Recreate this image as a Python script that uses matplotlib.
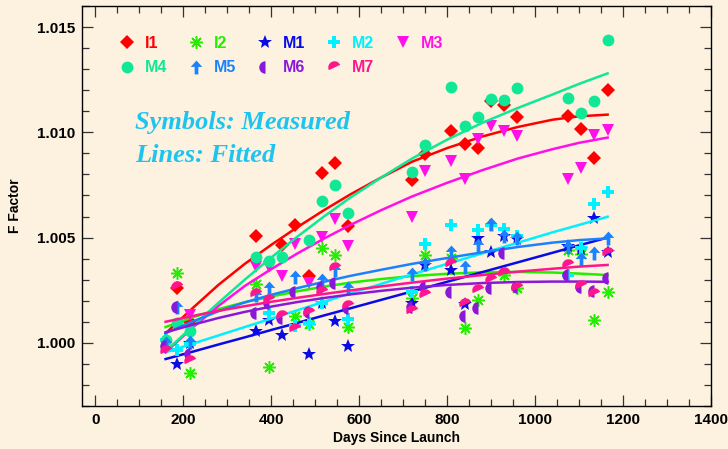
import numpy as np
import matplotlib.pyplot as plt
from matplotlib.markers import MarkerStyle
from matplotlib.transforms import Affine2D

plt.rcParams["font.family"] = ["Liberation Sans", "DejaVu Sans"]

nan = np.nan

# measurement days (days since launch)
days = [160, 185, 215, 365, 395, 425, 455, 485, 515, 545, 575,
        720, 750, 810, 840, 870, 900, 930, 960, 1075, 1105, 1135, 1165]

# measured F factors per band
i1 = [nan, 1.00260, 1.00098, 1.00507, nan, 1.00464, 1.00560, 1.00318, 1.00806, 1.00853, 1.00555,
      1.00772, 1.00896, 1.01005, 1.00943, 1.00926, 1.01147, 1.01130, 1.01075, 1.01077, 1.01014, 1.00877, 1.01200]
i2 = [nan, 1.00333, 0.99859, 1.00280, 0.99885, nan, 1.00128, 1.00090, 1.00449, 1.00415, 1.00074,
      1.00215, 1.00415, 1.00405, 1.00070, 1.00204, nan, 1.00320, 1.00259, 1.00443, 1.00420, 1.00108, 1.00243]
m1 = [nan, 0.99900, 1.00000, 1.00054, 1.00109, 1.00038, nan, 0.99946, 1.00190, 1.00106, 0.99984,
      1.00188, 1.00368, 1.00346, 1.00184, 1.00500, 1.00433, 1.00508, 1.00494, 1.00460, 1.00445, 1.00593, 1.00430]
m2 = [1.00014, 0.99967, 0.99995, nan, 1.00141, nan, 1.00080, 1.00095, 1.00187, nan, 1.00112,
      1.00243, 1.00470, 1.00558, nan, 1.00536, 1.00558, 1.00540, 1.00506, 1.00320, 1.00449, 1.00659, 1.00716]
m3 = [nan, nan, 1.00130, 1.00362, 1.00362, 1.00318, 1.00468, 1.00286, 1.00504, 1.00586, 1.00460,
      1.00596, 1.00814, 1.00862, 1.00778, 1.00966, 1.01029, 1.01004, 1.00984, 1.00780, 1.00832, 1.00986, 1.01009]
m4 = [1.00014, 1.00093, 1.00054, 1.00406, 1.00390, 1.00408, nan, 1.00488, 1.00673, 1.00749, 1.00615,
      1.00812, 1.00942, 1.01215, 1.01028, 1.01073, 1.01160, 1.01155, 1.01212, 1.01163, 1.01092, 1.01147, 1.01439]
m5 = [1.00000, 1.00170, 1.00006, 1.00225, 1.00259, nan, 1.00312, nan, 1.00299, 1.00345, 1.00259,
      1.00325, 1.00375, 1.00432, 1.00362, 1.00464, 1.00566, 1.00506, 1.00498, 1.00455, 1.00400, 1.00425, 1.00498]
m6 = [0.99983, 1.00170, 0.99945, 1.00141, 1.00188, 1.00117, 1.00243, 1.00148, 1.00267, 1.00283, 1.00164,
      1.00170, 1.00267, 1.00243, 1.00128, 1.00164, 1.00259, 1.00428, 1.00267, 1.00322, 1.00267, 1.00245, 1.00310]
m7 = [0.99959, 1.00267, 0.99916, 1.00233, 1.00202, 1.00129, 1.00066, 1.00141, 1.00243, 1.00354, 1.00176,
      1.00151, 1.00225, 1.00374, 1.00184, 1.00251, 1.00300, 1.00330, 1.00259, 1.00368, 1.00269, 1.00232, 1.00429]

fit_days = [160, 220, 280, 340, 400, 460, 520, 580, 650, 720, 800, 880, 960, 1040, 1100, 1165]
i1_fit = [1.00045, 1.00162, 1.00275, 1.00375, 1.00465, 1.00550, 1.00630, 1.00705,
          1.00785, 1.00860, 1.00925, 1.00980, 1.01025, 1.01060, 1.01076, 1.01084]
i2_fit = [1.00075, 1.00120, 1.00160, 1.00193, 1.00220, 1.00245, 1.00267, 1.00286,
          1.00303, 1.00317, 1.00328, 1.00335, 1.00337, 1.00334, 1.00329, 1.00322]
m1_fit = [0.99923, 0.99957, 0.99992, 1.00026, 1.00061, 1.00095, 1.00130, 1.00164,
          1.00204, 1.00244, 1.00290, 1.00336, 1.00382, 1.00428, 1.00463, 1.00500]
m2_fit = [0.99955, 0.99995, 1.00035, 1.00075, 1.00115, 1.00155, 1.00195, 1.00235,
          1.00280, 1.00325, 1.00375, 1.00425, 1.00475, 1.00525, 1.00560, 1.00599]
m3_fit = [0.99955, 1.00070, 1.00175, 1.00270, 1.00350, 1.00425, 1.00495, 1.00560,
          1.00630, 1.00695, 1.00760, 1.00820, 1.00875, 1.00920, 1.00950, 1.00975]
m4_fit = [0.99960, 1.00075, 1.00190, 1.00300, 1.00405, 1.00505, 1.00600, 1.00690,
          1.00785, 1.00875, 1.00965, 1.01045, 1.01115, 1.01180, 1.01230, 1.01280]
m5_fit = [1.00046, 1.00100, 1.00150, 1.00192, 1.00228, 1.00260, 1.00290, 1.00318,
          1.00347, 1.00375, 1.00403, 1.00430, 1.00455, 1.00476, 1.00488, 1.00496]
m6_fit = [1.00050, 1.00085, 1.00118, 1.00147, 1.00172, 1.00194, 1.00213, 1.00230,
          1.00247, 1.00262, 1.00275, 1.00284, 1.00289, 1.00291, 1.00291, 1.00290]
m7_fit = [1.00100, 1.00127, 1.00152, 1.00174, 1.00195, 1.00214, 1.00232, 1.00249,
          1.00268, 1.00286, 1.00305, 1.00322, 1.00338, 1.00352, 1.00362, 1.00370]

names = ["I1", "I2", "M1", "M2", "M3", "M4", "M5", "M6", "M7"]
colors = ["#ff0000", "#22ee00", "#0a0ae6", "#00f0ff", "#ff10e8",
          "#10e896", "#1a82ff", "#8a18d8", "#ff168e"]

arrow = [(0, 0.6), (0.5, 0.05), (0.16, 0.05), (0.16, -0.6), (-0.16, -0.6), (-0.16, 0.05), (-0.5, 0.05)]
markers = [
    dict(marker="D", ms=7),
    dict(marker=(8, 2, 0), ms=9, mew=1.1),
    dict(marker="*", ms=10),
    dict(marker="P", ms=9),
    dict(marker="v", ms=8.5),
    dict(marker="o", ms=8.5),
    dict(marker=arrow, ms=10),
    dict(marker=MarkerStyle("o", fillstyle="left"), ms=9),
    dict(marker=MarkerStyle("o", fillstyle="top", transform=Affine2D().rotate_deg(25)), ms=9),
]

measured = [i1, i2, m1, m2, m3, m4, m5, m6, m7]
fitted = [i1_fit, i2_fit, m1_fit, m2_fit, m3_fit, m4_fit, m5_fit, m6_fit, m7_fit]

bg = "#fcf2df"
fig = plt.figure(figsize=(7.28, 4.49), dpi=100, facecolor=bg)
ax = fig.add_axes([82 / 728, 1 - 406 / 449, 629 / 728, 400 / 449], facecolor=bg)

handles = []
for name, col, mk, y, yf in zip(names, colors, markers, measured, fitted):
    kw = dict(mk)
    kw.setdefault("mew", 0)
    h, = ax.plot(days, y, ls="none", color=col, mfc=col, mec=col, label=name, **kw)
    ax.plot(fit_days, yf, color=col, lw=1.8)
    handles.append(h)

# legend rows: I1 I2 M1 M2 M3 / M4 M5 M6 M7 (column-major fill)
order = [0, 5, 1, 6, 2, 7, 3, 8, 4]
leg = ax.legend([handles[i] for i in order], [names[i] for i in order],
                ncol=5, loc="upper left", bbox_to_anchor=(0.061, 0.926),
                frameon=False, numpoints=1, handlelength=0.8, handletextpad=0.72,
                columnspacing=1.4, labelspacing=0.6, borderaxespad=0, borderpad=0,
                prop=dict(weight="bold", size=11.5),
                labelcolor=[colors[i] for i in order])

ax.text(0.084, 0.71, "Symbols: Measured", transform=ax.transAxes, va="center",
        family="Liberation Serif", style="italic", weight="bold", size=19, color="#1ec4f0")
ax.text(0.084, 0.6275, "Lines: Fitted", transform=ax.transAxes, va="center",
        family="Liberation Serif", style="italic", weight="bold", size=19, color="#1ec4f0")

ax.set_xlim(-30, 1400)
ax.set_ylim(0.997, 1.016)
ax.set_xticks(np.arange(0, 1401, 200))
ax.set_xticks(np.arange(0, 1401, 50), minor=True)
ax.set_yticks([1.000, 1.005, 1.010, 1.015])
ax.set_yticklabels(["1.000", "1.005", "1.010", "1.015"])
ax.set_yticks(np.arange(0.997, 1.0161, 0.001), minor=True)
ax.tick_params(which="both", direction="in", top=True, right=True, color="#333333", width=0.9)
ax.tick_params(which="major", length=8, labelsize=11, pad=5)
ax.tick_params(which="minor", length=5)
for lab in ax.get_xticklabels() + ax.get_yticklabels():
    lab.set_fontweight("bold")
for s in ax.spines.values():
    s.set_linewidth(1.0)

ax.set_xlabel("Days Since Launch", weight="bold", size=10, labelpad=3)
ax.set_ylabel("F Factor", weight="bold", size=10, labelpad=11)

fig.savefig("out.png", dpi=100, facecolor=bg)
